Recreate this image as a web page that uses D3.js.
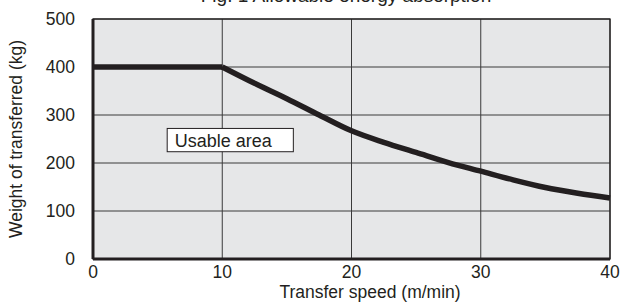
<!DOCTYPE html>
<html>
<head>
<meta charset="utf-8">
<script src="https://cdn.jsdelivr.net/npm/d3@7"></script>
<style>
  body { margin: 0; background: #fff; }
  text { font-family: "Liberation Sans", Arial, sans-serif; fill: #231f20; }
</style>
</head>
<body>
<svg id="chart" width="621" height="302"></svg>
<script>
"use strict";

// Values.
const speeds  = [0, 10, 12.5, 15, 17.5, 20, 22.5, 25, 27.5, 30, 32.5, 35, 37.5, 40];
const weights = [400, 400, 366, 334, 300, 267, 243, 222, 201, 183, 165, 149, 137, 127];
const xTicks = [0, 10, 20, 30, 40];
const yTicks = [0, 100, 200, 300, 400, 500];
const areaLabel = "Usable area";

const svg = d3.select("#chart");
const margin = {top: 19, right: 11, bottom: 43, left: 93};
const width = 621 - margin.left - margin.right;
const height = 302 - margin.top - margin.bottom;

const x = d3.scaleLinear().domain([0, 40]).range([0, width]);
const y = d3.scaleLinear().domain([0, 500]).range([height, 0]);

const g = svg.append("g").attr("transform", `translate(${margin.left},${margin.top})`);

// Title, mostly cut off at the top edge.
svg.append("text")
    .attr("x", 346)
    .attr("y", 2)
    .attr("text-anchor", "middle")
    .style("font-size", "19px")
    .text("Fig. 1 Allowable energy absorption");

// Plot background.
g.append("rect")
    .attr("width", width)
    .attr("height", height)
    .style("fill", "#e6e7e8");

// Grid lines.
g.selectAll(".vgrid").data(xTicks).enter().append("line")
    .attr("class", "vgrid")
    .attr("x1", d => x(d)).attr("x2", d => x(d))
    .attr("y1", 0).attr("y2", height)
    .style("stroke", "#3a3a3a")
    .style("stroke-width", "1px");

g.selectAll(".hgrid").data(yTicks).enter().append("line")
    .attr("class", "hgrid")
    .attr("x1", 0).attr("x2", width)
    .attr("y1", d => y(d)).attr("y2", d => y(d))
    .style("stroke", "#3a3a3a")
    .style("stroke-width", "1px");

// Frame: thin top/right, heavier left/bottom.
g.append("rect")
    .attr("width", width).attr("height", height)
    .style("fill", "none")
    .style("stroke", "#231f20")
    .style("stroke-width", "1.3px");
g.append("line")
    .attr("x1", 0).attr("x2", 0).attr("y1", 0).attr("y2", height)
    .style("stroke", "#231f20").style("stroke-width", "3px");
g.append("line")
    .attr("x1", 0).attr("x2", width).attr("y1", height).attr("y2", height)
    .style("stroke", "#231f20").style("stroke-width", "3px");

// Tick labels.
g.selectAll(".xlabel").data(xTicks).enter().append("text")
    .attr("class", "xlabel")
    .attr("x", d => x(d))
    .attr("y", height + 19)
    .attr("text-anchor", "middle")
    .style("font-size", "17.5px")
    .text(d => d);

g.selectAll(".ylabel").data(yTicks).enter().append("text")
    .attr("class", "ylabel")
    .attr("x", -18)
    .attr("y", d => y(d) + 6)
    .attr("text-anchor", "end")
    .style("font-size", "17.5px")
    .text(d => d);

// Axis titles.
svg.append("text")
    .attr("x", 370)
    .attr("y", 298)
    .attr("text-anchor", "middle")
    .style("font-size", "17.5px")
    .text("Transfer speed (m/min)");

svg.append("text")
    .attr("transform", `translate(22,${margin.top + height / 2}) rotate(-90)`)
    .attr("text-anchor", "middle")
    .style("font-size", "17.5px")
    .text("Weight of transferred (kg)");

// Curve: flat part straight, descending part smoothed.
const pts = speeds.map((s, i) => [s, weights[i]]);
const flat = pts.filter(p => p[0] <= 10);
const falling = pts.filter(p => p[0] >= 10);

g.append("path")
    .datum(flat)
    .attr("d", d3.line().x(d => x(d[0])).y(d => y(d[1])))
    .style("fill", "none")
    .style("stroke", "#231f20")
    .style("stroke-width", "5.5px");

g.append("path")
    .datum(falling)
    .attr("d", d3.line().curve(d3.curveMonotoneX).x(d => x(d[0])).y(d => y(d[1])))
    .style("fill", "none")
    .style("stroke", "#231f20")
    .style("stroke-width", "5.5px");

// "Usable area" label box.
const box = g.append("g");
box.append("rect")
    .attr("x", x(5.74))
    .attr("y", y(272))
    .attr("width", x(15.5) - x(5.74))
    .attr("height", y(223.5) - y(272))
    .style("fill", "#fff")
    .style("stroke", "#231f20")
    .style("stroke-width", "1px");
box.append("text")
    .attr("x", x(6.33))
    .attr("y", y(232.7))
    .style("font-size", "18px")
    .text(areaLabel);
</script>
</body>
</html>
